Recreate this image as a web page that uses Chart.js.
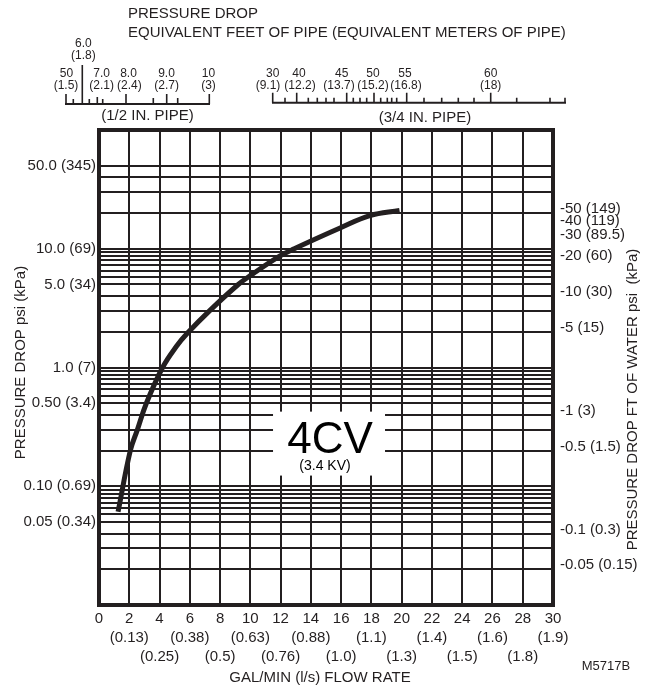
<!DOCTYPE html>
<html>
<head>
<meta charset="utf-8">
<script src="https://cdn.jsdelivr.net/npm/chart.js@4.4.1/dist/chart.umd.min.js"></script>
<style>
    body { margin: 0; background: #fff; }
</style>
</head>
<body>
<canvas id="myChart" width="648" height="689"></canvas>
<script>
//----------- Data -----------
// 4CV curve: flow (gal/min) and pressure drop (psi)
var flowGpm = [1.26, 2.07, 2.54, 3.13, 4.2, 5.12, 5.85, 7.3, 9.2, 10.05, 11.96, 12.9, 15.93, 17.9, 19.86];
var dropPsi = [0.061, 0.2, 0.3, 0.5, 1.0, 1.51, 1.95, 3.0, 5.0, 6.0, 8.7, 10.0, 14.95, 19.0, 21.0];

// bottom axis: gal/min and l/s
var flowTicks = [0, 2, 4, 6, 8, 10, 12, 14, 16, 18, 20, 22, 24, 26, 28, 30];
var flowLps = ['', '(0.13)', '(0.25)', '(0.38)', '(0.5)', '(0.63)', '(0.76)', '(0.88)',
    '(1.0)', '(1.1)', '(1.3)', '(1.4)', '(1.5)', '(1.6)', '(1.8)', '(1.9)'];

// left axis: psi grid lines and labels
var psiGrid = [50, 40, 30, 20,
    10, 9.3, 8.66, 8, 7.25, 6.53, 5.8, 5, 4, 3, 2,
    1, 0.93, 0.866, 0.8, 0.725, 0.653, 0.58, 0.5, 0.4, 0.3, 0.2,
    0.1, 0.093, 0.0866, 0.08, 0.0725, 0.0653, 0.058, 0.05, 0.04, 0.03, 0.02];
var psiLabelValues = [50, 10, 5, 1, 0.5, 0.1, 0.05];
var psiLabelText = ['50.0 (345)', '10.0 (69)', '5.0 (34)', '1.0 (7)', '0.50 (3.4)', '0.10 (0.69)', '0.05 (0.34)'];

// right axis: feet of water (kPa)
var waterFt = [50, 40, 30, 20, 10, 5, 1, 0.5, 0.1, 0.05];
var waterKpa = ['149', '119', '89.5', '60', '30', '15', '3', '1.5', '0.3', '0.15'];
var psiPerFt = 1 / 2.31;

// top scales: equivalent feet (meters) of pipe
var halfPipeFt = ['50', '6.0', '7.0', '8.0', '9.0', '10'];
var halfPipeM = ['(1.5)', '(1.8)', '(2.1)', '(2.4)', '(2.7)', '(3)'];
var quarterPipeFt = ['30', '40', '45', '50', '55', '60'];
var quarterPipeM = ['(9.1)', '(12.2)', '(13.7)', '(15.2)', '(16.8)', '(18)'];

//----------- Layout of the drawn pipe scales -----------
var halfPipeLayout = {
    y: 104, x0: 65, x1: 210,
    ticks: [[66, 10], [73.3, 5], [82.3, 39], [89.3, 5], [97.3, 7], [102.7, 5], [126, 10], [153.3, 6], [166.7, 10], [177.7, 6], [209.3, 10]],
    ftX: [66.5, 83.3, 101.7, 128.5, 166.5, 208.5],
    mX: [66, 83.3, 101.7, 129.3, 166.7, 208.5],
    rowY: [73.3, 43.3, 73.3, 73.3, 73.3, 73.3],
    name: '(1/2 IN. PIPE)', nameX: 147.5, nameY: 116
};
var quarterPipeLayout = {
    y: 102.7, x0: 272, x1: 566,
    ticks: [[272.7, 10], [285, 5], [296.7, 10], [308.3, 5], [317.3, 5], [326, 5], [334, 5], [346.7, 10], [353.3, 5],
        [360, 5], [366.7, 5], [374, 10], [380.7, 5], [387.3, 5], [391.7, 5], [396.7, 5], [406.7, 10], [424, 5],
        [441.7, 5], [458.3, 5], [474, 5], [490.7, 10], [516.7, 5], [550, 5], [565, 5]],
    ftX: [272.7, 299, 341.7, 373, 405, 490.7],
    mX: [268, 300, 339, 373, 406, 490.7],
    rowY: [73.3, 73.3, 73.3, 73.3, 73.3, 73.3],
    name: '(3/4 IN. PIPE)', nameX: 425, nameY: 118.3
};

var INK = '#231f20';
var FONT = "'Liberation Sans', Arial, Helvetica, sans-serif";

Chart.defaults.font.family = FONT;
Chart.defaults.font.size = 15;
Chart.defaults.color = INK;

function findIndex(list, v) {
    for (var i = 0; i < list.length; i++) {
        if (Math.abs(list[i] - v) / list[i] < 1e-6) return i;
    }
    return -1;
}

//----------- Drawing helpers -----------
function drawPipeScale(ctx, lay, ftLabels, mLabels) {
    ctx.strokeStyle = INK;
    ctx.lineWidth = 2;
    ctx.beginPath();
    ctx.moveTo(lay.x0, lay.y);
    ctx.lineTo(lay.x1, lay.y);
    ctx.stroke();
    ctx.lineWidth = 1.6;
    ctx.beginPath();
    lay.ticks.forEach(function (t) {
        ctx.moveTo(t[0], lay.y);
        ctx.lineTo(t[0], lay.y - t[1]);
    });
    ctx.stroke();

    ctx.fillStyle = INK;
    ctx.textAlign = 'center';
    ctx.textBaseline = 'middle';
    ctx.font = '12px ' + FONT;
    for (var i = 0; i < ftLabels.length; i++) {
        ctx.fillText(ftLabels[i], lay.ftX[i], lay.rowY[i]);
        ctx.fillText(mLabels[i], lay.mX[i], lay.rowY[i] + 12.2);
    }
    ctx.font = '15px ' + FONT;
    ctx.fillText(lay.name, lay.nameX, lay.nameY);
}

// plugin: frame, label box, titles and top pipe scales
var decorPlugin = {
    id: 'decor',
    beforeDatasetsDraw: function (chart) {
        var ctx = chart.ctx;
        var x = chart.scales.x, y = chart.scales.y;
        // white box with 4CV label
        var left = x.getPixelForValue(11.5), right = x.getPixelForValue(18.9);
        var top = y.getPixelForValue(0.425), bottom = y.getPixelForValue(0.123);
        ctx.save();
        ctx.fillStyle = '#fff';
        ctx.fillRect(left, top, right - left, bottom - top);
        ctx.fillStyle = '#000';
        ctx.textAlign = 'center';
        ctx.textBaseline = 'alphabetic';
        ctx.font = '44px ' + FONT;
        ctx.fillText('4CV', (left + right) / 2 + 1, top + 41.5);
        ctx.font = '14px ' + FONT;
        ctx.textBaseline = 'middle';
        ctx.fillText('(3.4 KV)', (left + right) / 2 - 4, top + 55);
        ctx.restore();
    },
    afterDraw: function (chart) {
        var ctx = chart.ctx;
        var a = chart.chartArea;
        ctx.save();
        // heavy frame
        ctx.strokeStyle = INK;
        ctx.lineWidth = 4;
        ctx.strokeRect(a.left, a.top, a.right - a.left, a.bottom - a.top);

        // top titles
        ctx.fillStyle = INK;
        ctx.font = '15px ' + FONT;
        ctx.textAlign = 'left';
        ctx.textBaseline = 'alphabetic';
        ctx.fillText('PRESSURE DROP', 128, 18);
        ctx.fillText('EQUIVALENT FEET OF PIPE (EQUIVALENT METERS OF PIPE)', 128, 37);

        drawPipeScale(ctx, halfPipeLayout, halfPipeFt, halfPipeM);
        drawPipeScale(ctx, quarterPipeLayout, quarterPipeFt, quarterPipeM);

        // axis titles
        ctx.font = '15px ' + FONT;
        ctx.textAlign = 'center';
        ctx.textBaseline = 'middle';
        ctx.fillText('GAL/MIN (l/s) FLOW RATE', 320, 678);

        ctx.save();
        ctx.translate(21, 362.5);
        ctx.rotate(-Math.PI / 2);
        ctx.fillText('PRESSURE DROP psi (kPa)', 0, 0);
        ctx.restore();

        ctx.save();
        ctx.translate(633, 399.5);
        ctx.rotate(-Math.PI / 2);
        ctx.fillText('PRESSURE DROP FT OF WATER psi  (kPa)', 0, 0);
        ctx.restore();

        ctx.font = '13px ' + FONT;
        ctx.fillText('M5717B', 606, 666);
        ctx.restore();
    }
};

//----------- Chart -----------
function BuildChart() {
    var points = [];
    for (var i = 0; i < flowGpm.length; i++) {
        points.push({ x: flowGpm[i], y: dropPsi[i] });
    }
    var ctx = document.getElementById('myChart').getContext('2d');
    var myChart = new Chart(ctx, {
        type: 'line',
        data: {
            datasets: [{
                label: '4CV',
                data: points,
                borderColor: INK,
                borderWidth: 5,
                borderCapStyle: 'butt',
                pointRadius: 0,
                fill: false,
                tension: 0.4
            }]
        },
        options: {
            responsive: false,
            animation: false,
            devicePixelRatio: 1,
            layout: { padding: { top: 130, left: 0, right: 0, bottom: 0 } },
            plugins: {
                legend: { display: false },
                tooltip: { enabled: false }
            },
            scales: {
                x: {
                    type: 'linear',
                    position: 'bottom',
                    min: 0,
                    max: 30,
                    afterBuildTicks: function (s) {
                        s.ticks = flowTicks.map(function (v) { return { value: v }; });
                    },
                    afterFit: function (s) { s.height = 84; },
                    grid: { color: INK, lineWidth: 2, drawTicks: false },
                    border: { display: false },
                    ticks: {
                        autoSkip: false,
                        maxRotation: 0,
                        padding: 4,
                        font: { size: 15, lineHeight: 1.27 },
                        callback: function (value) {
                            var i = flowTicks.indexOf(value);
                            if (i <= 0) return String(value);
                            if (i % 2 === 1) return [String(value), flowLps[i]];
                            return [String(value), '', flowLps[i]];
                        }
                    }
                },
                y: {
                    type: 'logarithmic',
                    position: 'left',
                    min: 0.01,
                    max: 100,
                    afterBuildTicks: function (s) {
                        s.ticks = psiGrid.map(function (v) { return { value: v }; });
                    },
                    afterFit: function (s) { s.width = 99; },
                    grid: { color: INK, lineWidth: 2, drawTicks: false },
                    border: { display: false },
                    ticks: {
                        autoSkip: false,
                        padding: 3,
                        callback: function (value) {
                            var i = findIndex(psiLabelValues, value);
                            return i < 0 ? '' : psiLabelText[i];
                        }
                    }
                },
                y2: {
                    type: 'logarithmic',
                    position: 'right',
                    min: 0.01,
                    max: 100,
                    afterBuildTicks: function (s) {
                        s.ticks = waterFt.map(function (f) { return { value: f * psiPerFt }; });
                    },
                    afterFit: function (s) { s.width = 95; },
                    grid: { display: false, drawTicks: false },
                    border: { display: false },
                    ticks: {
                        autoSkip: false,
                        padding: 7,
                        callback: function (value, index) {
                            return '-' + waterFt[index] + ' (' + waterKpa[index] + ')';
                        }
                    }
                }
            }
        },
        plugins: [decorPlugin]
    });
    return myChart;
}

BuildChart();
</script>
</body>
</html>
